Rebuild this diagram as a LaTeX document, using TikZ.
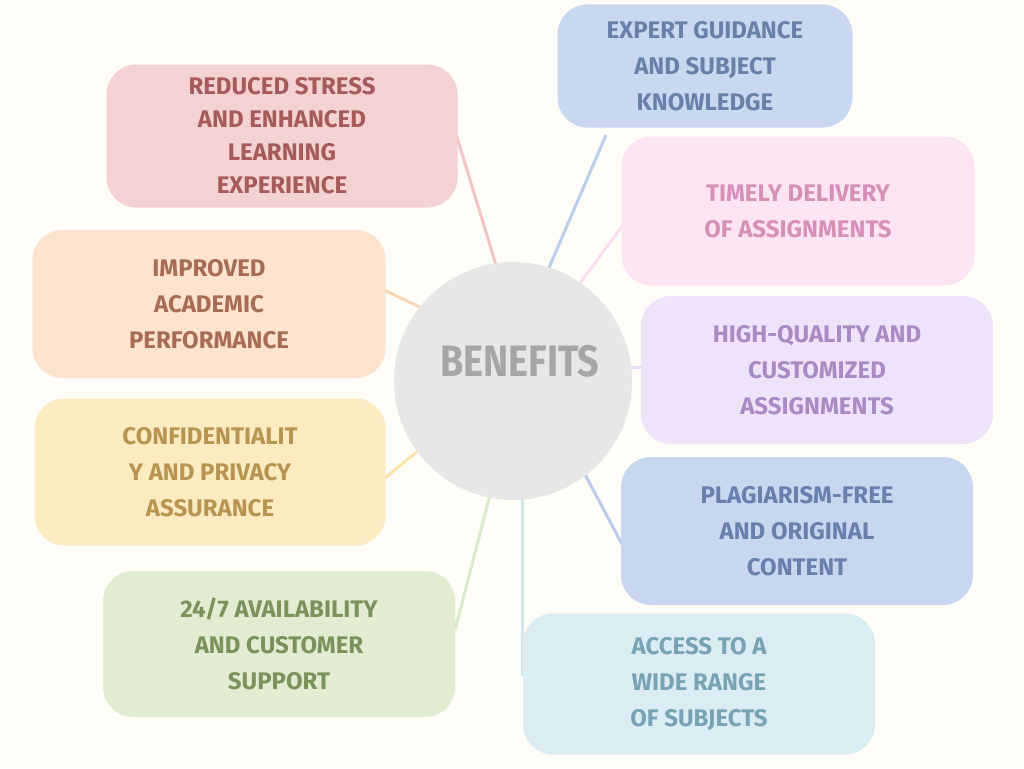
\documentclass[tikz,border=0pt]{standalone}
\usepackage{fontspec}
\setmainfont{Fira Sans}

\definecolor{paper}{HTML}{FEFDF8}
\definecolor{hubfill}{HTML}{E7E7E7}
\definecolor{hubtext}{HTML}{A6A6A6}
\definecolor{stressfill}{HTML}{F4D2D2}  \definecolor{stresstext}{HTML}{A65A5C}  \definecolor{stressline}{HTML}{F2C4C4}
\definecolor{expertfill}{HTML}{C9D8F0}  \definecolor{experttext}{HTML}{6A80AA}  \definecolor{expertline}{HTML}{BACDEE}
\definecolor{timelyfill}{HTML}{FDE4F2}  \definecolor{timelytext}{HTML}{D690B8}  \definecolor{timelyline}{HTML}{FBDDF0}
\definecolor{qualityfill}{HTML}{EFE3FA} \definecolor{qualitytext}{HTML}{A88BC4} \definecolor{qualityline}{HTML}{E8DBFA}
\definecolor{plagfill}{HTML}{C9D6F0}    \definecolor{plagtext}{HTML}{6A7FAE}    \definecolor{plagline}{HTML}{BACAEE}
\definecolor{accessfill}{HTML}{DBECF2}  \definecolor{accesstext}{HTML}{76A4B4}  \definecolor{accessline}{HTML}{CFE6EE}
\definecolor{supportfill}{HTML}{E1ECD3} \definecolor{supporttext}{HTML}{7A9358} \definecolor{supportline}{HTML}{D9E9C9}
\definecolor{privfill}{HTML}{FBEBC0}    \definecolor{privtext}{HTML}{B8944E}    \definecolor{privline}{HTML}{FBE3A9}
\definecolor{perffill}{HTML}{FCE3CE}    \definecolor{perftext}{HTML}{A86C54}    \definecolor{perfline}{HTML}{FAD7B9}

\tikzset{
  blob/.style={rounded corners=30pt, inner sep=0pt, align=center,
    font=\bfseries\fontsize{24}{36}\selectfont},
  link/.style={line width=3pt},
}

\begin{document}
\begin{tikzpicture}[x=1pt,y=-1pt]
\fill[paper] (0,0) rectangle (1024,768);

% spokes
\coordinate (s1) at (500,278); \coordinate (e1) at (456,134);
\coordinate (s2) at (548,270); \coordinate (e2) at (606,135);
\coordinate (s3) at (575,290); \coordinate (e3) at (626,221);
\coordinate (s4) at (625,367); \coordinate (e4) at (646,367);
\coordinate (s5) at (580,465); \coordinate (e5) at (624,548);
\coordinate (s6) at (522,495); \coordinate (e6) at (522,676);
\coordinate (s7) at (490,495); \coordinate (e7) at (455,630);
\coordinate (s8) at (425,445); \coordinate (e8) at (385,478);
\coordinate (s9) at (430,312); \coordinate (e9) at (384,290);

\draw[link, stressline]  (s1) -- (e1);
\draw[link, expertline]  (s2) -- (e2);
\draw[link, timelyline]  (s3) -- (e3);
\draw[link, qualityline] (s4) -- (e4);
\draw[link, plagline]    (s5) -- (e5);
\draw[link, accessline]  (s6) -- (e6);
\draw[link, supportline] (s7) -- (e7);
\draw[link, privline]    (s8) -- (e8);
\draw[link, perfline]    (s9) -- (e9);

% hub
\node[circle, fill=hubfill, minimum size=238pt] (hub) at (513,381) {};
\node[font=\bfseries\fontsize{44}{44}\selectfont, text=hubtext] (hubtitle) at (520,361)
  {\scalebox{0.86}[1]{BENEFITS}};

% benefits
\node[blob, fill=stressfill, text=stresstext, minimum width=351pt, minimum height=143pt,
  font=\bfseries\fontsize{24}{33}\selectfont] (stress) at (282,136)
  {REDUCED STRESS\\AND ENHANCED\\LEARNING\\EXPERIENCE};
\node[blob, fill=expertfill, text=experttext, minimum width=295pt, minimum height=123pt] (expert) at (705,66)
  {EXPERT GUIDANCE\\AND SUBJECT\\KNOWLEDGE};
\node[blob, fill=timelyfill, text=timelytext, minimum width=353pt, minimum height=149pt] (timely) at (798,211)
  {TIMELY DELIVERY\\OF ASSIGNMENTS};
\node[blob, fill=qualityfill, text=qualitytext, minimum width=352pt, minimum height=148pt] (quality) at (817,370)
  {HIGH-QUALITY AND\\CUSTOMIZED\\ASSIGNMENTS};
\node[blob, fill=plagfill, text=plagtext, minimum width=352pt, minimum height=148pt] (plag) at (797,531)
  {PLAGIARISM-FREE\\AND ORIGINAL\\CONTENT};
\node[blob, fill=accessfill, text=accesstext, minimum width=352pt, minimum height=141pt] (access) at (699,684)
  {ACCESS TO A\\WIDE RANGE\\OF SUBJECTS};
\node[blob, fill=supportfill, text=supporttext, minimum width=352pt, minimum height=146pt] (support) at (279,644)
  {24/7 AVAILABILITY\\AND CUSTOMER\\SUPPORT};
\node[blob, fill=privfill, text=privtext, minimum width=351pt, minimum height=147pt] (priv) at (210,472)
  {CONFIDENTIALIT\\Y AND PRIVACY\\ASSURANCE};
\node[blob, fill=perffill, text=perftext, minimum width=353pt, minimum height=148pt] (perf) at (209,304)
  {IMPROVED\\ACADEMIC\\PERFORMANCE};
\end{tikzpicture}
\end{document}
